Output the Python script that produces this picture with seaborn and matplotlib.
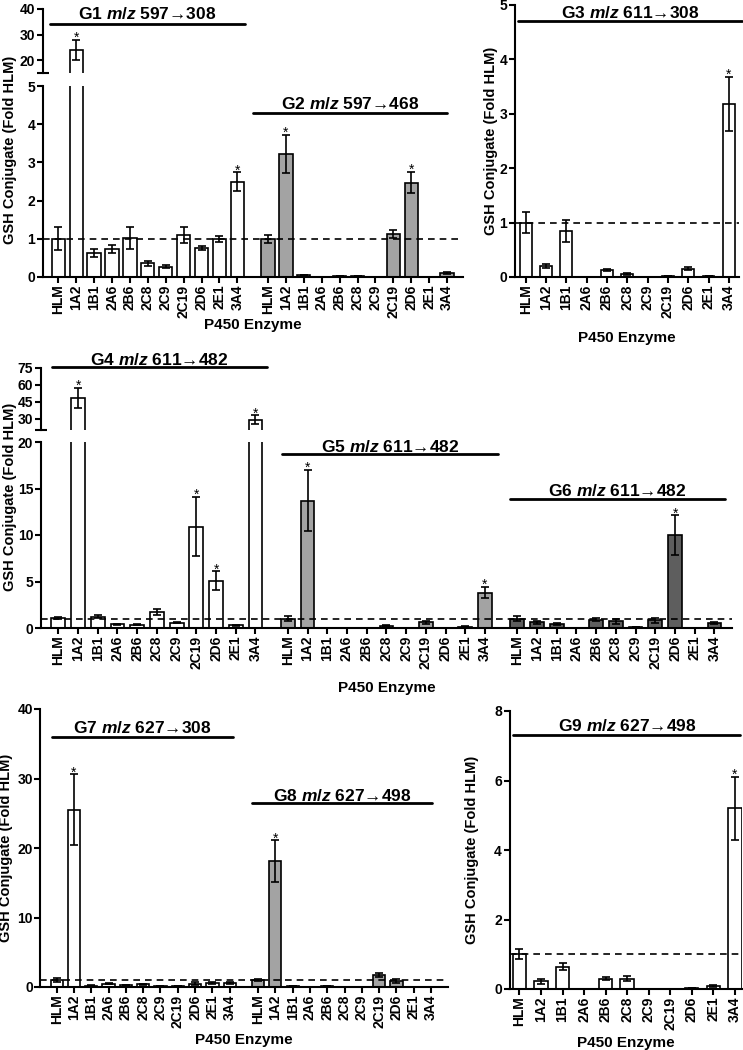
import numpy as np
import pandas as pd
import seaborn as sns
import matplotlib.pyplot as plt
import matplotlib.transforms as mtransforms

# enzyme panel order (same for every group)
enzymes = ["HLM", "1A2", "1B1", "2A6", "2B6", "2C8", "2C9", "2C19", "2D6", "2E1", "3A4"]

# values (fold over HLM, mean and error)
g1_mean = [1.0, 24.0, 0.62, 0.73, 1.02, 0.36, 0.27, 1.10, 0.75, 0.99, 2.50]
g1_err = [0.30, 4.0, 0.10, 0.10, 0.30, 0.06, 0.04, 0.20, 0.05, 0.08, 0.24]
g1_sig = ["1A2", "3A4"]

g2_mean = [1.0, 3.22, 0.05, 0.0, 0.02, 0.03, 0.0, 1.12, 2.47, 0.01, 0.10]
g2_err = [0.11, 0.50, 0.0, 0.0, 0.0, 0.0, 0.0, 0.11, 0.28, 0.0, 0.03]
g2_sig = ["1A2", "2D6"]

g3_mean = [1.0, 0.20, 0.84, 0.0, 0.13, 0.05, 0.0, 0.02, 0.15, 0.02, 3.18]
g3_err = [0.20, 0.04, 0.20, 0.0, 0.02, 0.02, 0.0, 0.0, 0.03, 0.0, 0.50]
g3_sig = ["3A4"]

g4_mean = [1.07, 48.0, 1.2, 0.4, 0.35, 1.7, 0.55, 10.9, 5.1, 0.3, 29.0]
g4_err = [0.15, 9.0, 0.15, 0.06, 0.05, 0.3, 0.05, 3.2, 1.0, 0.05, 4.0]
g4_sig = ["1A2", "2C19", "2D6", "3A4"]

g5_mean = [1.0, 13.7, 0.05, 0.0, 0.02, 0.25, 0.0, 0.6, 0.05, 0.15, 3.8]
g5_err = [0.3, 3.3, 0.0, 0.0, 0.0, 0.08, 0.0, 0.12, 0.0, 0.05, 0.6]
g5_sig = ["1A2", "3A4"]

g6_mean = [1.0, 0.6, 0.43, 0.05, 0.9, 0.7, 0.1, 0.82, 10.0, 0.02, 0.54]
g6_err = [0.25, 0.2, 0.1, 0.0, 0.2, 0.25, 0.0, 0.25, 2.1, 0.0, 0.1]
g6_sig = ["2D6"]

g7_mean = [1.0, 25.5, 0.2, 0.5, 0.3, 0.4, 0.1, 0.15, 0.5, 0.6, 0.6]
g7_err = [0.25, 5.1, 0.03, 0.1, 0.05, 0.1, 0.02, 0.03, 0.25, 0.15, 0.15]
g7_sig = ["1A2"]

g8_mean = [1.0, 18.1, 0.15, 0.0, 0.15, 0.0, 0.0, 1.7, 0.9, 0.0, 0.0]
g8_err = [0.1, 3.0, 0.03, 0.0, 0.03, 0.0, 0.0, 0.25, 0.3, 0.0, 0.0]
g8_sig = ["1A2"]

g9_mean = [1.0, 0.22, 0.64, 0.0, 0.30, 0.30, 0.01, 0.01, 0.02, 0.08, 5.2]
g9_err = [0.15, 0.08, 0.10, 0.0, 0.04, 0.07, 0.0, 0.0, 0.0, 0.03, 0.9]
g9_sig = ["3A4"]

WHITE = "white"
GREY = "#a3a3a3"
DARK = "#5e5e5e"

sns.set_style("ticks")
plt.rcParams["font.family"] = ["Liberation Sans", "DejaVu Sans"]
plt.rcParams["font.weight"] = "bold"
plt.rcParams["axes.labelweight"] = "bold"
plt.rcParams["mathtext.fontset"] = "custom"
plt.rcParams["mathtext.it"] = "Liberation Sans:italic:bold"
plt.rcParams["mathtext.rm"] = "Liberation Sans:bold"
plt.rcParams["axes.edgecolor"] = "black"
plt.rcParams["axes.linewidth"] = 1.5
plt.rcParams["text.color"] = "black"
plt.rcParams["axes.labelcolor"] = "black"
plt.rcParams["xtick.color"] = "black"
plt.rcParams["ytick.color"] = "black"

W, H = 743, 1050
fig = plt.figure(figsize=(W / 100, H / 100), dpi=100)


def add_ax(left, top, right, bottom):
    # axes box given in pixel coordinates of the final image
    return fig.add_axes([left / W, 1 - bottom / H, (right - left) / W, (bottom - top) / H])


def draw_group(ax, offset, means, errs, sigs, color, width):
    pos = offset + np.arange(len(enzymes))
    df = pd.DataFrame({"pos": pos, "val": means})
    sns.barplot(data=df, x="pos", y="val", native_scale=True, orient="x",
                color=color, edgecolor="black", linewidth=1.2, width=width,
                saturation=1, errorbar=None, ax=ax)
    ax.errorbar(pos, means, yerr=errs, fmt="none", ecolor="black",
                elinewidth=1.2, capsize=3, capthick=1.2, zorder=4)
    lo, hi = ax.get_ylim()
    for p, m, e, name in zip(pos, means, errs, enzymes):
        if name in sigs and lo <= m + e < hi:
            ax.annotate("*", (p, m + e), xytext=(0, -1.5), textcoords="offset points",
                        ha="center", va="baseline", fontsize=10, fontweight="normal")
    return pos


def style(ax, ylim, yticks, xlim, show_x=True):
    ax.set_ylim(ylim)
    ax.set_yticks(yticks)
    ax.set_xlim(xlim)
    sns.despine(ax=ax)
    ax.tick_params(width=1.5, length=4, labelsize=10, pad=1.5)
    ax.set_xlabel("")
    ax.set_ylabel("")
    if not show_x:
        ax.spines["bottom"].set_visible(False)
        ax.tick_params(axis="x", bottom=False, labelbottom=False)


def break_mark(ax, y):
    ax.set_yticks([y], minor=True)
    ax.tick_params(axis="y", which="minor", direction="inout", length=9, width=1.5)


def group_title(ax, x0, x1, y_text, y_line, g, mz):
    tr = mtransforms.blended_transform_factory(ax.transData, fig.transFigure)
    ax.plot([x0, x1], [1 - y_line / H] * 2, color="black", lw=2, transform=tr, clip_on=False)
    ax.text((x0 + x1) / 2, 1 - y_text / H, g + r" $\mathit{m/z}$ " + mz, transform=tr,
            ha="center", va="center", fontsize=12.5, fontweight="bold")


def dashed(ax):
    ax.axhline(1, color="black", lw=1.2, ls=(0, (4, 3)), zorder=5)


def xlabels(ax, pos, y):
    ax.set_xticks(pos)
    ax.set_xticklabels(list(enzymes) * (len(pos) // len(enzymes)), rotation=90)
    ax.set_xlabel("P450 Enzyme", fontsize=11)
    ax.xaxis.set_label_coords(0.5, y)


# ---- panel G1 / G2 (broken axis) ----
xl = (-0.855, 22.6)
off2 = 11.71
ax_t = add_ax(43, 9, 463, 73)
ax_b = add_ax(43, 86, 463, 277)
for ax, yl, yt in [(ax_t, (15, 40), [20, 30, 40]), (ax_b, (0, 5), [0, 1, 2, 3, 4, 5])]:
    ax.set_ylim(yl)
    p1 = draw_group(ax, 0, g1_mean, g1_err, g1_sig, WHITE, 0.74)
    p2 = draw_group(ax, off2, g2_mean, g2_err, g2_sig, GREY, 0.74)
    style(ax, yl, yt, xl, show_x=(ax is ax_b))
break_mark(ax_t, 15)
dashed(ax_b)
xlabels(ax_b, np.concatenate([p1, p2]), -0.215)
group_title(ax_t, -0.46, 10.43, 14, 24, "G1", "597→308")
group_title(ax_b, 10.88, 21.70, 104, 113, "G2", "597→468")
fig.text(10 / W, 1 - 150 / H, "GSH Conjugate (Fold HLM)", rotation=90,
         ha="center", va="center", fontsize=10.5, fontweight="bold")

# ---- panel G3 ----
ax3 = add_ax(515, 5, 739, 277)
ax3.set_ylim(0, 5)
p3 = draw_group(ax3, 0, g3_mean, g3_err, g3_sig, WHITE, 0.58)
style(ax3, (0, 5), [0, 1, 2, 3, 4, 5], (-0.53, 10.5))
dashed(ax3)
xlabels(ax3, p3, -0.199)
ax3.set_ylabel("GSH Conjugate (Fold HLM)", fontsize=10.5)
ax3.yaxis.set_label_coords(-0.075, 0.5)
group_title(ax3, -0.38, 10.65, 13, 21, "G3", "611→308")

# ---- panel G4 / G5 / G6 (broken axis) ----
xm = (-0.88, 34.17)
ax_mt = add_ax(41, 367.5, 732, 430)
ax_mb = add_ax(41, 442, 732, 628)
for ax, yl, yt in [(ax_mt, (20, 75), [30, 45, 60, 75]), (ax_mb, (0, 20), [0, 5, 10, 15, 20])]:
    ax.set_ylim(yl)
    q4 = draw_group(ax, 0, g4_mean, g4_err, g4_sig, WHITE, 0.7)
    q5 = draw_group(ax, 11.64, g5_mean, g5_err, g5_sig, GREY, 0.7)
    q6 = draw_group(ax, 23.28, g6_mean, g6_err, g6_sig, DARK, 0.7)
    style(ax, yl, yt, xm, show_x=(ax is ax_mb))
break_mark(ax_mt, 20)
dashed(ax_mb)
xlabels(ax_mb, np.concatenate([q4, q5, q6]), -0.285)
group_title(ax_mt, -0.34, 10.58, 360, 367, "G4", "611→482")
group_title(ax_mb, 11.34, 22.28, 447, 454, "G5", "611→482")
group_title(ax_mb, 22.89, 33.84, 491, 499, "G6", "611→482")
fig.text(10 / W, 1 - 497 / H, "GSH Conjugate (Fold HLM)", rotation=90,
         ha="center", va="center", fontsize=10.5, fontweight="bold")

# ---- panel G7 / G8 ----
ax7 = add_ax(40, 709, 448, 987)
ax7.set_ylim(0, 40)
r7 = draw_group(ax7, 0, g7_mean, g7_err, g7_sig, WHITE, 0.71)
r8 = draw_group(ax7, 11.64, g8_mean, g8_err, g8_sig, GREY, 0.71)
style(ax7, (0, 40), [0, 10, 20, 30, 40], (-0.965, 22.62))
ax7.tick_params(axis="y", pad=1)
dashed(ax7)
xlabels(ax7, np.concatenate([r7, r8]), -0.165)
ax7.set_ylabel("GSH Conjugate (Fold HLM)", fontsize=10.5)
ax7.yaxis.set_label_coords(-0.066, 0.5)
group_title(ax7, -0.29, 10.19, 728, 737, "G7", "627→308")
group_title(ax7, 11.27, 21.71, 796, 803, "G8", "627→498")

# ---- panel G9 ----
ax9 = add_ax(509.5, 711, 742, 989)
ax9.set_ylim(0, 8)
r9 = draw_group(ax9, 0, g9_mean, g9_err, g9_sig, WHITE, 0.62)
style(ax9, (0, 8), [0, 2, 4, 6, 8], (-0.46, 10.33))
dashed(ax9)
xlabels(ax9, r9, -0.169)
ax9.set_ylabel("GSH Conjugate (Fold HLM)", fontsize=10.5)
ax9.yaxis.set_label_coords(-0.13, 0.5)
group_title(ax9, -0.28, 10.26, 726, 735, "G9", "627→498")

fig.savefig("out.png", dpi=100)
